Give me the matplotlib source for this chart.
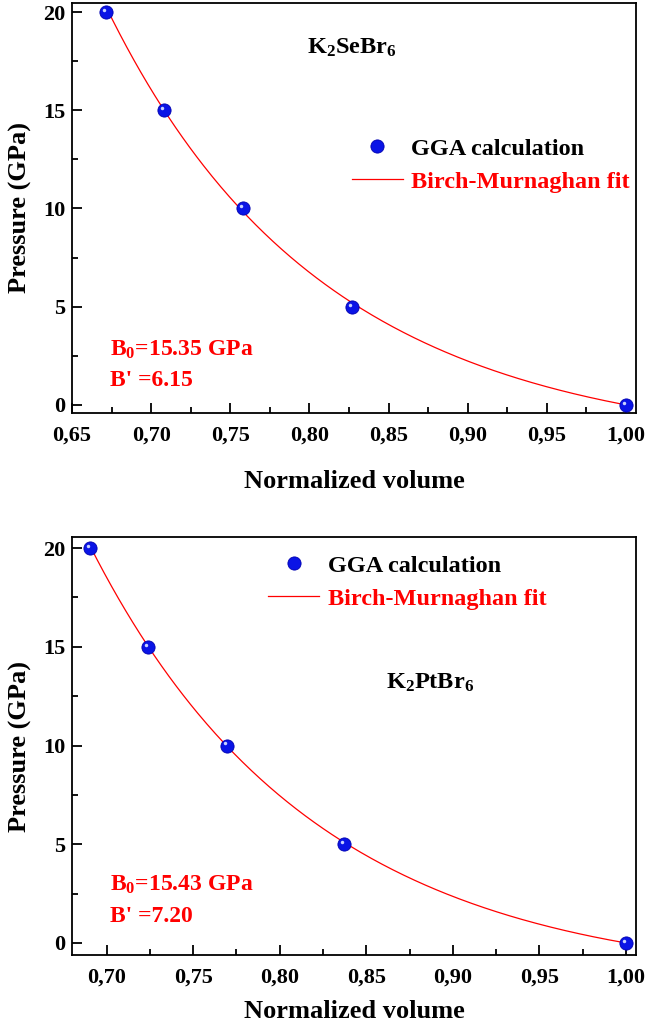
import numpy as np
import matplotlib
matplotlib.use("Agg")
import matplotlib.pyplot as plt
from matplotlib.ticker import MultipleLocator, FuncFormatter
import matplotlib.transforms as mtransforms

plt.rcParams['font.family'] = ['Liberation Serif', 'DejaVu Serif']
plt.rcParams['font.weight'] = 'bold'
plt.rcParams['mathtext.fontset'] = 'custom'
plt.rcParams['mathtext.rm'] = 'Liberation Serif:bold'
plt.rcParams['mathtext.it'] = 'Liberation Serif:bold'
plt.rcParams['mathtext.bf'] = 'Liberation Serif:bold'
plt.rcParams['mathtext.default'] = 'rm'

# Data: K2SeBr6
vol_se = [0.6715, 0.708, 0.758, 0.827, 1.000]
p_se = [20, 15, 10, 5, 0]
B0_se, Bp_se = 15.35, 6.15

# Data: K2PtBr6
vol_pt = [0.6904, 0.724, 0.7695, 0.837, 1.000]
p_pt = [20, 15, 10, 5, 0]
B0_pt, Bp_pt = 15.43, 7.20


def birch_murnaghan(v, b0, bp):
    return 1.5 * b0 * (v ** (-7 / 3) - v ** (-5 / 3)) * (1 + 0.75 * (bp - 4) * (v ** (-2 / 3) - 1))


fig = plt.figure(figsize=(6.46, 10.27), dpi=100)
ax1 = fig.add_axes([0.1115, 0.5979, 0.873, 0.3992])
ax2 = fig.add_axes([0.1115, 0.0701, 0.873, 0.4070])

comma = FuncFormatter(lambda x, pos: f"{x:.2f}".replace('.', ','))


def draw(ax, vols, ps, b0, bp, xlim, ylim, title, title_xy, leg_anchor, ann_y, xpad):
    v = np.linspace(vols[0], vols[-1], 300)
    line, = ax.plot(v, birch_murnaghan(v, b0, bp), color='red', lw=0.9, zorder=2)
    pts, = ax.plot(vols, ps, 'o', ms=9.5, mfc='#0a14e6', mec='#0000b0', mew=0.6, zorder=3)
    off = mtransforms.offset_copy(ax.transData, fig=fig, x=-1.5, y=1.5, units='points')
    ax.plot(vols, ps, 'o', ms=2.5, mfc='#c8d2ff', mec='none', transform=off, zorder=4)
    ax.set_xlim(*xlim)
    ax.set_ylim(*ylim)
    ax.xaxis.set_major_locator(MultipleLocator(0.05))
    ax.xaxis.set_minor_locator(MultipleLocator(0.025))
    ax.yaxis.set_major_locator(MultipleLocator(5))
    ax.yaxis.set_minor_locator(MultipleLocator(2.5))
    ax.xaxis.set_major_formatter(comma)
    ax.tick_params(which='both', direction='in', top=False, right=False, width=1.3)
    ax.tick_params(which='major', length=7, labelsize=16)
    ax.tick_params(axis='x', which='major', pad=9)
    ax.tick_params(axis='y', which='major', pad=5)
    ax.tick_params(which='minor', length=4)
    for lab in ax.get_xticklabels() + ax.get_yticklabels():
        lab.set_fontweight('bold')
    for s in ax.spines.values():
        s.set_linewidth(1.3)
    ax.set_xlabel('Normalized volume', fontsize=19, fontweight='bold', labelpad=xpad)
    ax.set_ylabel('Pressure (GPa)', fontsize=19, fontweight='bold', labelpad=8)
    ax.text(title_xy[0], title_xy[1], title, transform=ax.transAxes, fontsize=17.5,
            fontweight='bold', ha='left', va='center')
    leg = ax.legend([pts, line], ['GGA calculation', 'Birch-Murnaghan fit'],
                    loc='upper left', bbox_to_anchor=leg_anchor, frameon=False,
                    fontsize=17.5, handlelength=2.1, handletextpad=0.35,
                    labelspacing=0.45, borderaxespad=0, borderpad=0, numpoints=1)
    for t in leg.get_texts():
        t.set_fontweight('bold')
    leg.get_texts()[1].set_color('red')
    ax.text(0.068, ann_y, f'B$_0$={b0:.2f} GPa', transform=ax.transAxes, color='red',
            fontsize=17, fontweight='bold', ha='left', va='center')
    ax.text(0.068, ann_y - 0.075, f"B' ={bp:.2f}", transform=ax.transAxes, color='red',
            fontsize=17, fontweight='bold', ha='left', va='center')


draw(ax1, vol_se, p_se, B0_se, Bp_se, (0.65, 1.0063), (-0.41, 20.46),
     'K$_2$SeBr$_6$', (0.417, 0.89), (0.496, 0.671), 0.155, 18)
draw(ax2, vol_pt, p_pt, B0_pt, Bp_pt, (0.680, 1.0058), (-0.61, 20.56),
     'K$_2$PtBr$_6$', (0.557, 0.65), (0.348, 0.958), 0.168, 9)

fig.savefig('out.png', dpi=100)
